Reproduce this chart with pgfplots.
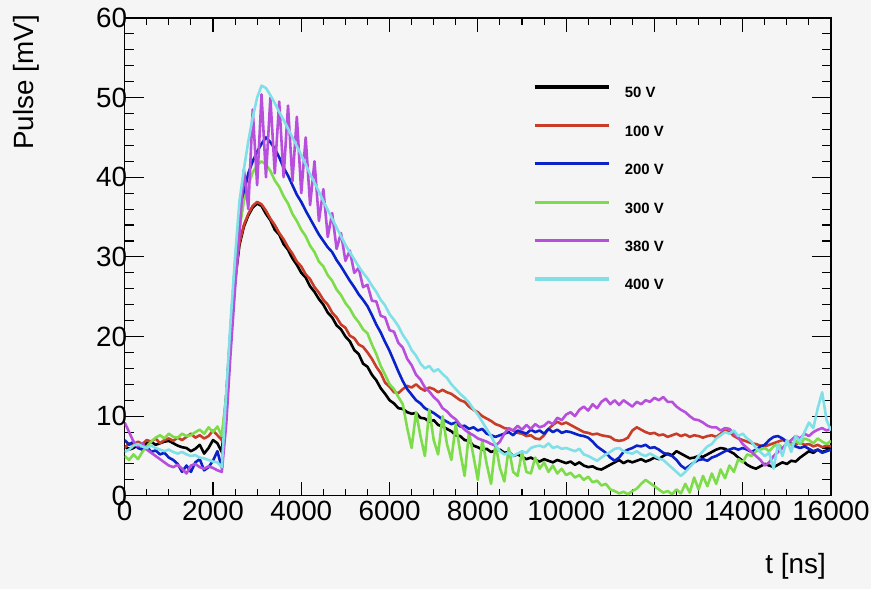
\documentclass[border=0pt]{standalone}
\usepackage{pgfplots}
\pgfplotsset{compat=1.18}
\usepackage{pgfplotstable}
\usepackage{fontspec}
\setmainfont{Liberation Sans}
\definecolor{bgc}{RGB}{245,245,245}
\definecolor{cR}{RGB}{200,60,40}
\definecolor{cB}{RGB}{10,34,200}
\definecolor{cG}{RGB}{125,220,74}
\definecolor{cP}{RGB}{184,79,220}
\definecolor{cC}{RGB}{127,224,232}

\pgfplotstableread{
t k r b g p c
0 6.2 6.0 7.0 5.0 9.2 5.5
100 5.8 6.6 6.4 4.5 8.0 5.8
200 6.0 6.4 6.8 5.2 6.8 6.3
300 6.4 6.8 6.0 4.6 6.2 6.5
400 6.2 6.5 5.8 5.5 6.6 6.2
500 6.6 7.0 6.2 6.2 5.8 6.0
600 6.8 6.8 5.5 6.8 5.4 6.3
700 6.4 7.2 5.7 7.3 5.0 6.0
800 6.6 6.6 5.2 7.6 4.6 5.8
900 6.8 7.0 5.4 7.2 4.2 5.6
1000 6.9 7.2 4.8 7.8 3.8 5.8
1100 6.6 6.9 4.5 7.4 3.6 5.5
1200 6.3 7.3 4.0 7.3 3.9 5.3
1300 6.1 7.0 3.0 7.8 3.4 5.5
1400 6.0 7.4 3.8 7.5 2.8 5.2
1500 5.6 7.8 3.0 7.6 3.8 5.0
1600 5.9 7.3 4.2 8.0 4.0 5.1
1700 6.4 7.6 4.6 8.3 3.6 4.8
1800 5.3 7.2 3.2 7.8 3.4 4.7
1900 6.0 7.5 3.6 8.6 3.7 4.5
2000 7.0 8.2 4.4 8.0 3.5 4.3
2100 6.6 7.6 5.6 8.7 3.2 4.2
2200 5.5 7.0 3.5 7.5 3.0 3.6
2300 12.0 12.5 12.5 12.5 9.0 13.0
2400 20.0 20.5 21.0 20.5 18.0 22.0
2500 27.0 27.5 29.0 28.5 26.0 30.0
2600 31.5 31.8 34.0 33.5 33.0 37.0
2700 33.8 34.0 38.0 37.0 41.0 41.0
2800 35.2 35.4 40.5 39.0 36.0 44.5
2900 36.2 36.4 42.0 40.6 48.5 47.5
3000 36.7 36.9 43.2 41.5 39.0 50.0
3100 36.4 36.6 44.2 42.0 50.4 51.5
3200 35.4 35.8 45.0 41.6 40.0 51.2
3300 34.6 34.8 44.4 40.8 50.0 50.3
3400 33.4 34.0 43.6 39.6 40.5 49.3
3500 32.8 33.0 42.5 38.8 49.5 48.2
3600 31.6 32.2 41.2 37.6 40.0 47.2
3700 30.9 31.2 40.2 36.7 49.0 46.1
3800 29.8 30.4 39.0 35.4 39.5 45.0
3900 29.0 29.4 37.8 34.5 47.6 43.9
4000 28.0 28.8 36.9 33.4 38.0 42.8
4100 27.4 27.8 35.8 32.6 45.0 41.6
4200 26.3 27.2 34.8 31.4 36.5 40.4
4300 25.6 26.2 33.8 30.6 42.0 39.3
4400 24.7 25.5 32.8 29.4 34.5 38.2
4500 24.0 24.6 32.0 28.8 38.5 37.0
4600 23.0 24.0 31.2 27.7 32.5 35.9
4700 22.4 23.0 30.6 27.0 35.5 34.8
4800 21.4 22.4 29.6 25.9 31.0 33.7
4900 20.9 21.5 28.8 25.2 33.0 32.6
5000 20.0 21.1 27.9 24.2 29.5 31.5
5100 19.4 20.1 27.0 23.5 30.8 30.6
5200 18.3 19.8 26.2 22.5 28.0 29.7
5300 17.8 19.0 25.3 21.8 28.6 28.8
5400 16.6 18.7 24.6 20.9 26.2 28.0
5500 16.2 18.0 23.8 20.4 26.5 27.3
5600 15.2 17.2 22.7 19.0 24.5 26.4
5700 14.5 16.2 21.5 17.8 24.4 25.6
5800 13.5 15.4 20.5 16.3 22.6 24.6
5900 12.8 14.2 19.3 15.2 22.4 23.9
6000 12.0 13.7 18.2 14.0 20.8 22.8
6100 11.6 13.0 16.9 13.4 20.6 22.1
6200 11.0 12.9 15.6 12.4 19.2 21.3
6300 10.9 13.4 14.4 11.5 18.6 20.2
6400 10.5 13.8 13.4 8.5 17.2 19.4
6500 10.3 13.6 12.7 6.0 16.4 18.3
6600 10.4 14.0 12.0 10.5 15.2 17.6
6700 9.8 13.5 11.6 7.5 14.6 16.6
6800 9.7 13.2 11.0 5.0 13.6 16.0
6900 9.3 13.6 10.7 10.8 13.1 16.3
7000 9.5 13.4 10.4 7.0 12.4 15.6
7100 8.9 13.0 10.0 5.2 11.9 15.9
7200 8.7 13.3 9.6 10.0 11.0 15.3
7300 8.4 13.0 9.3 6.5 10.6 14.8
7400 8.1 12.8 9.0 4.5 10.0 14.0
7500 7.6 12.4 9.2 9.0 9.6 13.4
7600 7.5 12.0 8.7 5.5 8.9 12.8
7700 7.0 11.8 8.8 2.5 8.3 12.3
7800 6.9 11.2 8.4 8.0 7.9 11.7
7900 6.3 10.8 8.6 5.0 7.6 10.9
8000 6.1 10.5 8.2 2.0 7.2 10.2
8100 5.8 10.0 8.4 7.0 7.0 9.3
8200 5.9 9.7 7.8 4.0 6.8 8.4
8300 5.5 9.4 7.6 1.5 6.5 7.5
8400 5.7 9.0 7.4 6.5 6.3 6.4
8500 5.8 8.8 7.6 3.5 6.8 5.6
8600 5.4 8.5 7.8 1.8 7.8 5.2
8700 5.5 8.4 8.0 6.0 8.5 5.4
8800 5.0 8.2 7.6 3.0 8.2 5.0
8900 5.2 7.9 8.2 2.5 8.8 5.3
9000 4.9 7.8 8.0 5.5 8.3 5.6
9100 4.6 7.5 7.8 3.0 8.9 5.4
9200 4.8 7.6 8.3 2.8 8.4 6.0
9300 4.5 7.2 8.0 4.8 9.0 6.2
9400 4.3 7.1 8.2 3.4 8.6 6.3
9500 4.6 7.6 7.8 4.2 8.8 6.1
9600 4.4 8.4 8.4 3.0 9.3 6.6
9700 4.2 8.9 8.0 3.8 9.0 6.0
9800 4.5 9.3 8.3 2.8 9.8 6.2
9900 4.3 9.0 7.9 3.4 9.5 5.9
10000 4.1 9.2 8.1 2.6 10.2 6.0
10100 4.3 8.9 8.0 2.9 10.5 5.8
10200 3.9 8.6 7.8 2.3 10.0 5.6
10300 4.2 8.3 7.6 2.6 10.8 5.9
10400 3.8 8.0 7.5 2.0 11.2 5.2
10500 3.6 7.9 7.3 2.4 10.7 5.0
10600 3.7 7.7 6.8 1.7 11.5 4.7
10700 3.4 7.8 6.2 1.9 11.0 4.4
10800 3.3 7.6 5.8 1.3 11.8 4.8
10900 3.6 7.5 5.4 1.5 12.2 5.2
11000 3.9 7.4 4.8 0.8 11.5 5.5
11100 4.2 7.0 4.4 0.6 12.0 5.9
11200 4.5 6.9 4.8 0.3 11.4 6.0
11300 4.1 7.0 5.5 0.5 12.0 5.6
11400 4.4 7.3 5.8 0.2 11.6 5.4
11500 4.2 8.2 6.0 0.6 11.2 5.3
11600 4.4 8.6 6.3 0.9 11.8 5.6
11700 4.6 8.3 6.2 1.5 11.5 5.2
11800 4.3 8.0 6.4 2.0 12.0 5.0
11900 4.5 7.8 6.0 1.6 11.8 5.3
12000 4.8 7.9 6.1 1.2 12.3 5.0
12100 4.6 7.6 5.8 0.8 12.0 4.7
12200 5.0 7.7 5.4 0.4 12.4 4.5
12300 5.3 7.4 5.2 0.6 11.8 4.0
12400 5.1 7.6 5.0 0.2 11.8 3.5
12500 5.6 7.8 4.5 0.8 11.2 3.0
12600 5.3 7.5 3.8 0.3 10.8 2.5
12700 5.0 7.7 3.4 1.5 10.5 3.0
12800 4.7 7.4 3.8 0.4 10.0 3.6
12900 4.8 7.6 4.2 2.3 9.6 4.2
13000 5.0 7.5 4.5 0.8 9.5 5.0
13100 4.9 7.3 4.6 2.5 9.2 5.6
13200 5.2 7.5 4.4 1.2 8.8 6.2
13300 5.5 7.6 4.8 2.8 8.6 6.5
13400 5.8 7.4 5.0 1.5 8.6 7.2
13500 6.0 7.8 5.3 3.3 8.2 7.6
13600 5.9 8.2 5.6 2.2 8.5 8.0
13700 5.6 8.0 5.8 3.8 8.4 7.8
13800 5.3 7.5 6.0 3.0 7.8 8.2
13900 4.8 7.2 5.8 4.6 7.3 7.5
14000 4.4 7.0 6.0 4.2 6.5 7.8
14100 3.9 6.8 5.8 5.2 6.0 7.2
14200 3.6 6.6 5.5 5.0 5.5 6.8
14300 3.4 6.5 5.8 5.6 5.0 6.0
14400 3.7 6.3 6.2 5.8 4.5 5.5
14500 4.0 6.2 6.4 6.0 3.8 5.0
14600 3.8 6.4 7.0 5.6 4.2 5.4
14700 3.6 6.6 7.4 6.2 5.0 3.4
14800 3.9 6.8 7.5 6.5 5.5 6.5
14900 4.2 7.0 7.2 6.0 6.0 5.0
15000 4.0 6.8 6.8 6.6 6.5 7.0
15100 4.4 6.6 6.4 6.4 7.0 5.5
15200 4.3 6.5 6.2 6.9 7.5 7.5
15300 4.8 6.7 6.0 6.5 7.2 6.8
15400 5.2 6.4 6.2 7.2 7.8 8.0
15500 5.6 6.5 5.9 7.0 7.5 9.2
15600 5.4 6.2 5.6 6.6 8.0 8.5
15700 5.8 6.4 5.8 7.2 8.3 11.0
15800 5.5 6.1 5.4 6.8 8.5 13.0
15900 5.7 6.3 5.6 6.5 8.2 9.5
16000 6.0 6.2 5.8 6.9 8.4 8.2
}\pulses

\begin{document}
\begin{tikzpicture}
\fill[bgc] (-125bp,-93bp) rectangle (748bp,497bp);
\begin{axis}[
  at={(0,0)}, anchor=south west,
  scale only axis, width=708bp, height=479bp,
  xmin=0, xmax=16000, ymin=0, ymax=60,
  axis line style={line width=1.3bp},
  xtick distance=2000, ytick distance=10,
  minor x tick num=3, minor y tick num=4,
  tick align=inside, xtick pos=both, ytick pos=both,
  xticklabel pos=lower, yticklabel pos=left,
  major tick length=14bp, minor tick length=7bp,
  x tick style={/pgfplots/major tick length=14bp,/pgfplots/minor tick length=7bp},
  y tick style={/pgfplots/major tick length=19bp,/pgfplots/minor tick length=9.5bp},
  every tick/.style={black, line width=1.1bp},
  tick label style={font=\fontsize{28}{28}\selectfont},
  /pgf/number format/assume math mode=true,
  /pgf/number format/set thousands separator={},
  scaled x ticks=false,
  xticklabel style={yshift=-2bp},
  yticklabel style={xshift=6bp},
  xlabel={t [ns]}, ylabel={Pulse [mV]},
  label style={font=\fontsize{28}{28}\selectfont, inner sep=0pt},
  xlabel style={at={([xshift=-5bp,yshift=-57bp]rel axis cs:1,0)}, anchor=north east},
  ylabel style={at={([xshift=-112bp,yshift=3bp]rel axis cs:0,1)}, anchor=north east},
  legend cell align=left,
  legend style={at={(rel axis cs:0.5777,0.8593)}, anchor=north west, draw=none, fill=none,
    inner xsep=0pt, inner ysep=0pt, column sep=14bp, row sep=26bp,
    font=\bfseries\fontsize{15}{15}\selectfont,
    nodes={inner sep=0pt, text height=11bp, text depth=0pt}},
  legend image code/.code={\draw[#1, line width=3.2bp] (0bp,5.4bp) -- (75bp,5.4bp);},
  every axis plot/.append style={line width=2.6bp, line join=round, no markers},
]
\addplot[black] table[x=t,y=k]{\pulses};
\addlegendentry{50 V}
\addplot[cR] table[x=t,y=r]{\pulses};
\addlegendentry{100 V}
\addplot[cB] table[x=t,y=b]{\pulses};
\addlegendentry{200 V}
\addplot[cG] table[x=t,y=g]{\pulses};
\addlegendentry{300 V}
\addplot[cP] table[x=t,y=p]{\pulses};
\addlegendentry{380 V}
\addplot[cC] table[x=t,y=c]{\pulses};
\addlegendentry{400 V}
\end{axis}
\end{tikzpicture}
\end{document}
